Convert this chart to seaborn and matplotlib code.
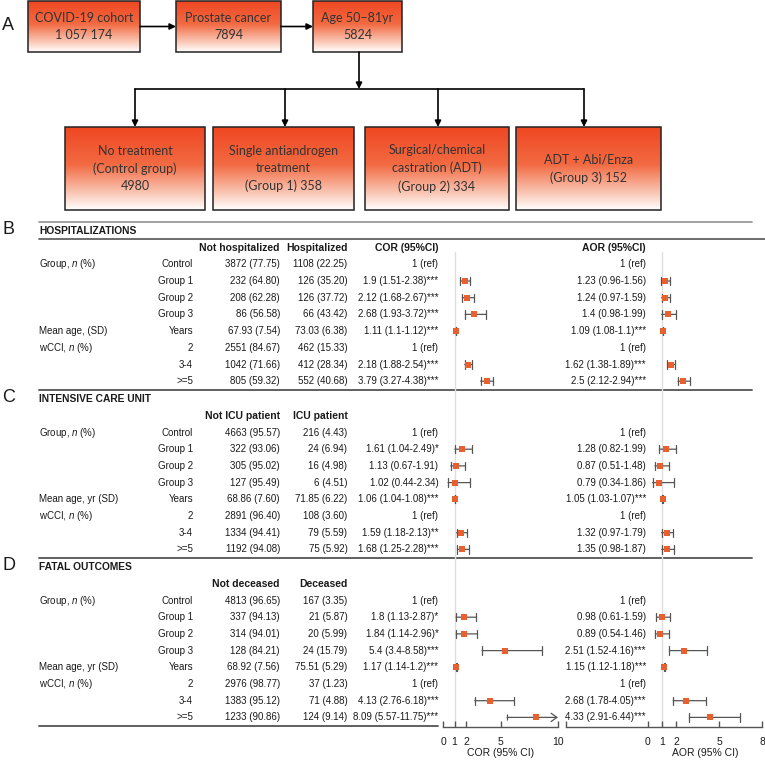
import numpy as np
import pandas as pd
import seaborn as sns
import matplotlib.pyplot as plt
from matplotlib.colors import LinearSegmentedColormap
from matplotlib.patches import Rectangle

nan = np.nan

# ---------------------- Data ---------------------- #
flow_top = ["COVID-19 cohort\n1 057 174", "Prostate cancer\n7894", "Age 50–81yr\n5824"]
flow_groups = ["No treatment\n(Control group)\n4980",
               "Single antiandrogen\ntreatment\n(Group 1) 358",
               "Surgical/chemical\ncastration (ADT)\n(Group 2) 334",
               "ADT + Abi/Enza\n(Group 3) 152"]

panel_letters = ["B", "C", "D"]
section_titles = ["HOSPITALIZATIONS", "INTENSIVE CARE UNIT", "FATAL OUTCOMES"]
count_heads = [("Not hospitalized", "Hospitalized"),
               ("Not ICU patient", "ICU patient"),
               ("Not deceased", "Deceased")]
age_labels = ["Mean age, (SD)", "Mean age, yr (SD)", "Mean age, yr (SD)"]
levels = ["Control", "Group 1", "Group 2", "Group 3", "Years", "2", "3-4", ">=5"]

hosp_neg = ["3872 (77.75)", "232 (64.80)", "208 (62.28)", "86 (56.58)", "67.93 (7.54)", "2551 (84.67)", "1042 (71.66)", "805 (59.32)"]
hosp_pos = ["1108 (22.25)", "126 (35.20)", "126 (37.72)", "66 (43.42)", "73.03 (6.38)", "462 (15.33)", "412 (28.34)", "552 (40.68)"]
icu_neg = ["4663 (95.57)", "322 (93.06)", "305 (95.02)", "127 (95.49)", "68.86 (7.60)", "2891 (96.40)", "1334 (94.41)", "1192 (94.08)"]
icu_pos = ["216 (4.43)", "24 (6.94)", "16 (4.98)", "6 (4.51)", "71.85 (6.22)", "108 (3.60)", "79 (5.59)", "75 (5.92)"]
death_neg = ["4813 (96.65)", "337 (94.13)", "314 (94.01)", "128 (84.21)", "68.92 (7.56)", "2976 (98.77)", "1383 (95.12)", "1233 (90.86)"]
death_pos = ["167 (3.35)", "21 (5.87)", "20 (5.99)", "24 (15.79)", "75.51 (5.29)", "37 (1.23)", "71 (4.88)", "124 (9.14)"]

# odds ratios, nan CI = reference level
hosp_cor = [1, 1.9, 2.12, 2.68, 1.11, 1, 2.18, 3.79]
hosp_cor_lo = [nan, 1.51, 1.68, 1.93, 1.1, nan, 1.88, 3.27]
hosp_cor_hi = [nan, 2.38, 2.67, 3.72, 1.12, nan, 2.54, 4.38]
hosp_cor_sig = ["", "***", "***", "***", "***", "", "***", "***"]
hosp_aor = [1, 1.23, 1.24, 1.4, 1.09, 1, 1.62, 2.5]
hosp_aor_lo = [nan, 0.96, 0.97, 0.98, 1.08, nan, 1.38, 2.12]
hosp_aor_hi = [nan, 1.56, 1.59, 1.99, 1.1, nan, 1.89, 2.94]
hosp_aor_sig = ["", "", "", "", "***", "", "***", "***"]

icu_cor = [1, 1.61, 1.13, 1.02, 1.06, 1, 1.59, 1.68]
icu_cor_lo = [nan, 1.04, 0.67, 0.44, 1.04, nan, 1.18, 1.25]
icu_cor_hi = [nan, 2.49, 1.91, 2.34, 1.08, nan, 2.13, 2.28]
icu_cor_sig = ["", "*", "", "", "***", "", "**", "***"]
icu_aor = [1, 1.28, 0.87, 0.79, 1.05, 1, 1.32, 1.35]
icu_aor_lo = [nan, 0.82, 0.51, 0.34, 1.03, nan, 0.97, 0.98]
icu_aor_hi = [nan, 1.99, 1.48, 1.86, 1.07, nan, 1.79, 1.87]
icu_aor_sig = ["", "", "", "", "***", "", "", ""]

death_cor = [1, 1.8, 1.84, 5.4, 1.17, 1, 4.13, 8.09]
death_cor_lo = [nan, 1.13, 1.14, 3.4, 1.14, nan, 2.76, 5.57]
death_cor_hi = [nan, 2.87, 2.96, 8.58, 1.2, nan, 6.18, 11.75]
death_cor_sig = ["", "*", "*", "***", "***", "", "***", "***"]
death_aor = [1, 0.98, 0.89, 2.51, 1.15, 1, 2.68, 4.33]
death_aor_lo = [nan, 0.61, 0.54, 1.52, 1.12, nan, 1.78, 2.91]
death_aor_hi = [nan, 1.59, 1.46, 4.16, 1.18, nan, 4.05, 6.44]
death_aor_sig = ["", "", "", "***", "***", "", "***", "***"]

cor_ticks = [0, 1, 2, 5, 10]
aor_ticks = [0, 1, 2, 5, 8]

counts = [(hosp_neg, hosp_pos), (icu_neg, icu_pos), (death_neg, death_pos)]
ors = [
    {"COR": (hosp_cor, hosp_cor_lo, hosp_cor_hi, hosp_cor_sig), "AOR": (hosp_aor, hosp_aor_lo, hosp_aor_hi, hosp_aor_sig)},
    {"COR": (icu_cor, icu_cor_lo, icu_cor_hi, icu_cor_sig), "AOR": (icu_aor, icu_aor_lo, icu_aor_hi, icu_aor_sig)},
    {"COR": (death_cor, death_cor_lo, death_cor_hi, death_cor_sig), "AOR": (death_aor, death_aor_lo, death_aor_hi, death_aor_sig)},
]

# ---------------------- Layout (pixels) ---------------------- #
W, H = 765, 767
row_top = [264.3, 432.5, 600.5]
row_h = 16.7
axis_y = 727
orange = "#E8602F"
txt_col = "#1a1a1a"

rows = []
for s in range(3):
    for kind in ["COR", "AOR"]:
        est, lo, hi, sig = ors[s][kind]
        for i in range(8):
            rows.append({"sec": s, "row": i, "y": row_top[s] + i * row_h, "kind": kind,
                         "est": est[i], "lo": lo[i], "hi": hi[i], "sig": sig[i]})
df = pd.DataFrame(rows)
df["label"] = [f"{e:g} (ref)" if np.isnan(l) else f"{e:g} ({l:g}-{h:g}){g}"
               for e, l, h, g in zip(df["est"], df["lo"], df["hi"], df["sig"])]

sns.set_theme(style="white")
plt.rcParams["font.family"] = ["Liberation Sans", "DejaVu Sans"]
plt.rcParams["mathtext.fontset"] = "custom"
plt.rcParams["mathtext.it"] = "Liberation Sans:italic"
plt.rcParams["mathtext.rm"] = "Liberation Sans"

fig = plt.figure(figsize=(W / 100, H / 100), dpi=100)
ax = fig.add_axes([0, 0, 1, 1])


def px_axes(x0, x1, y0, y1):
    return fig.add_axes([x0 / W, 1 - y1 / H, (x1 - x0) / W, (y1 - y0) / H])


# ---------------------- A: flow chart ---------------------- #
cmap = LinearSegmentedColormap.from_list(
    "box", [(0, "#EF4722"), (0.45, "#F26A42"), (0.8, "#FAC8B6"), (1, "#FFFFFF")])
grad = np.linspace(0, 1, 256).reshape(-1, 1)
flow_font = ["Lato", "DejaVu Sans"]


def flow_box(x0, x1, y0, y1, label):
    ax.imshow(grad, cmap=cmap, extent=(x0, x1, y1, y0), aspect="auto", zorder=1)
    ax.add_patch(Rectangle((x0, y0), x1 - x0, y1 - y0, fill=False, ec="#222222", lw=1.1, zorder=2))
    ax.text((x0 + x1) / 2, (y0 + y1) / 2, label, ha="center", va="center", fontsize=9,
            family=flow_font, color="#333333", linespacing=1.55, zorder=3)


arrow = dict(arrowstyle="-|>", color="black", lw=1.2, mutation_scale=9, shrinkA=0, shrinkB=0)
top_x = [(28, 140), (176, 281), (313, 402)]
for (x0, x1), lab in zip(top_x, flow_top):
    flow_box(x0, x1, 1, 52, lab)
for (a, b) in zip(top_x[:-1], top_x[1:]):
    ax.annotate("", xy=(b[0], 26.5), xytext=(a[1], 26.5), arrowprops=arrow)

grp_x = [(65, 205), (213, 354), (365, 509), (516, 661)]
drop_x = [135, 285, 438, 584]
ax.annotate("", xy=(359, 89), xytext=(359, 52), arrowprops=arrow)
ax.plot([drop_x[0], drop_x[-1]], [89, 89], color="black", lw=1.2)
for (x0, x1), xd, lab in zip(grp_x, drop_x, flow_groups):
    ax.annotate("", xy=(xd, 127), xytext=(xd, 89), arrowprops=arrow)
    flow_box(x0, x1, 127, 210, lab)
ax.text(2, 26, "A", fontsize=13, va="center", color=txt_col)

# ---------------------- B-D: tables ---------------------- #
ax.plot([39, 752], [222, 222], color="#9a9a9a", lw=1.3)
ax.plot([39, 765], [239, 239], color="#555555", lw=1.2)
for s in range(3):
    r0 = row_top[s]
    ax.text(2, r0 - 35, panel_letters[s], fontsize=13, va="center", color=txt_col)
    ax.text(39, r0 - 33.6, section_titles[s], fontsize=7.4, weight="bold", va="center", color=txt_col)
    ax.text(280, r0 - row_h, count_heads[s][0], fontsize=7.5, weight="bold", ha="right", va="center", color=txt_col)
    ax.text(347.5, r0 - row_h, count_heads[s][1], fontsize=7.5, weight="bold", ha="right", va="center", color=txt_col)
    if s == 0:
        ax.text(438.5, r0 - row_h, "COR (95%CI)", fontsize=7.5, weight="bold", ha="right", va="center", color=txt_col)
        ax.text(646, r0 - row_h, "AOR (95%CI)", fontsize=7.5, weight="bold", ha="right", va="center", color=txt_col)
    var_labels = {0: "Group, $n$ (%)", 4: age_labels[s], 5: "wCCI, $n$ (%)"}
    sec = df[df["sec"] == s]
    cor_lab = sec[sec["kind"] == "COR"]["label"].tolist()
    aor_lab = sec[sec["kind"] == "AOR"]["label"].tolist()
    for i in range(8):
        y = r0 + i * row_h
        kw = dict(fontsize=7, va="center", color=txt_col)
        if i in var_labels:
            ax.text(39, y, var_labels[i], **kw)
        ax.text(193, y, levels[i], ha="right", **kw)
        ax.text(280, y, counts[s][0][i], ha="right", **kw)
        ax.text(347.5, y, counts[s][1][i], ha="right", **kw)
        ax.text(438.5, y, cor_lab[i], ha="right", **kw)
        ax.text(646, y, aor_lab[i], ha="right", **kw)
    ysep = r0 + 7 * row_h + 8.5
    ax.plot([39, 752 if s < 2 else 438], [ysep, ysep], color="#606060", lw=1.4)

ax.set_xlim(0, W)
ax.set_ylim(H, 0)
ax.axis("off")

# ---------------------- forest plots ---------------------- #
fy0 = 252
cor_ax = px_axes(443, 558, fy0, axis_y)
aor_ax = px_axes(566, 762, fy0, axis_y)
whisk = "#555555"
for kind, axf, lim, ticks in [("COR", cor_ax, (0, 10), cor_ticks), ("AOR", aor_ax, (-5.72, 8), aor_ticks)]:
    axf.patch.set_alpha(0)
    axf.axvline(1, color="#dedede", lw=1, zorder=0)
    d = df[(df["kind"] == kind) & df["lo"].notna()]
    for r in d.itertuples():
        if r.hi > lim[1]:
            # CI runs past the axis: arrow at the axis end
            axf.annotate("", xy=(lim[1], r.y), xytext=(r.lo, r.y),
                         arrowprops=dict(arrowstyle="->,head_length=0.35,head_width=0.25", color=whisk,
                                         lw=0.9, shrinkA=0, shrinkB=0),
                         annotation_clip=False, zorder=2)
            axf.plot([r.lo], [r.y], marker="|", ms=5, mew=0.9, color=whisk, zorder=2)
        else:
            axf.annotate("", xy=(r.hi, r.y), xytext=(r.lo, r.y),
                         arrowprops=dict(arrowstyle="|-|,widthA=0.25,widthB=0.25", color=whisk,
                                         lw=0.9, shrinkA=0, shrinkB=0),
                         annotation_clip=False, zorder=2)
    sns.scatterplot(data=d, x="est", y="y", marker="s", s=20, color=orange, linewidth=0, ax=axf, zorder=3)
    axf.set_xlim(*lim)
    axf.set_ylim(axis_y, fy0)
    tick_pos = sorted(set([lim[0]] + ticks))
    axf.set_xticks(tick_pos)
    axf.set_xticklabels([f"{t:g}" if t in ticks else "" for t in tick_pos])
    axf.set_yticks([])
    axf.set_ylabel("")
    axf.set_xlabel(f"{kind} (95% CI)", fontsize=7.5, color=txt_col)
    # centre the axis title under the 0..max part of the scale, ~26 px below the axis line
    axf.xaxis.set_label_coords((0 - lim[0]) / (lim[1] - lim[0]) / 2 + 0.5, -21 / (axis_y - fy0))
    sns.despine(ax=axf, left=True)
    axf.spines["bottom"].set_color("#555555")
    axf.spines["bottom"].set_linewidth(1)
    axf.tick_params(axis="x", direction="in", length=4, width=1, color="#555555",
                    labelsize=7.5, pad=7, labelcolor=txt_col, bottom=True)

fig.savefig("out.png", dpi=100)
